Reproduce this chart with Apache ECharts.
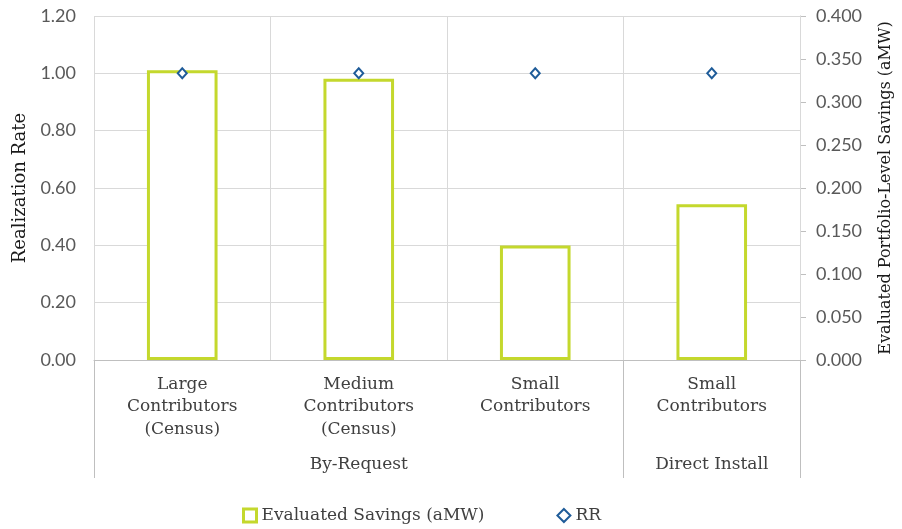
<!DOCTYPE html>
<html>
<head>
<meta charset="utf-8">
<script src="https://cdn.jsdelivr.net/npm/echarts@6/dist/echarts.min.js"></script>
<style>
  html, body { margin: 0; padding: 0; background: #fff; }
  #chart { width: 902px; height: 529px; }
</style>
</head>
<body>
<div id="chart"></div>
<script>
// categories (inner level) and program groups (outer level)
var categories = ['Large\nContributors\n(Census)', 'Medium\nContributors\n(Census)', 'Small\nContributors', 'Small\nContributors']
var groupLabels = ['', 'By-Request', '', 'Direct Install']
var groupStarts = [0, 3]   // index where each group begins

// values
var savings = [0.337, 0.327, 0.133, 0.181]   // aMW, right axis
var rr = [1.00, 1.00, 1.00, 1.00]            // realization rate, left axis

var serif = '"DejaVu Serif", serif'
var sans = 'Lato, "Open Sans", sans-serif'
var gridColor = '#d9d9d9'
var axisColor = '#bfbfbf'
var green = '#c4d82d'

var chart = echarts.init(document.getElementById('chart'))
var option = {
  animation: false,
  grid: { left: 94, right: 97, top: 16, bottom: 169, containLabel: false },
  legend: {
    left: 237,
    top: 502,
    itemGap: 72,
    itemWidth: 13,
    itemHeight: 13,
    textStyle: { fontFamily: serif, fontSize: 17, color: '#404040' },
    data: [
      { name: 'Evaluated Savings (aMW)', icon: 'rect', itemStyle: { color: '#ffffff', borderColor: green, borderWidth: 3 } },
      { name: 'RR', icon: 'diamond' }
    ]
  },
  xAxis: [
    {
      type: 'category',
      data: categories,
      position: 'bottom',
      z: 5,
      axisLine: { show: true, lineStyle: { color: axisColor, width: 1 } },
      axisTick: { show: false },
      splitLine: { show: true, lineStyle: { color: gridColor, width: 1 } },
      axisLabel: {
        interval: 0,
        margin: 13,
        fontFamily: serif,
        fontSize: 17,
        lineHeight: 22.5,
        color: '#404040'
      }
    },
    {
      type: 'category',
      data: groupLabels,
      position: 'bottom',
      axisLine: { show: false },
      axisTick: {
        show: true,
        length: 118,
        interval: function (i) { return groupStarts.indexOf(i) >= 0 },
        lineStyle: { color: axisColor, width: 1 }
      },
      splitLine: { show: false },
      axisLabel: {
        interval: 0,
        margin: 96,
        fontFamily: serif,
        fontSize: 17,
        color: '#404040'
      }
    }
  ],
  yAxis: [
    {
      type: 'value',
      min: 0,
      max: 1.2,
      interval: 0.2,
      name: 'Realization Rate',
      nameLocation: 'middle',
      nameGap: 65,
      nameTextStyle: { fontFamily: serif, fontSize: 18, color: '#1a1a1a' },
      axisLine: { show: false },
      axisTick: { show: false },
      splitLine: { show: true, lineStyle: { color: gridColor, width: 1 } },
      axisLabel: {
        margin: 18,
        fontFamily: sans,
        fontSize: 18,
        color: '#595959',
        formatter: function (v) { return v.toFixed(2) }
      }
    },
    {
      type: 'value',
      min: 0,
      max: 0.4,
      interval: 0.05,
      position: 'right',
      name: 'Evaluated Portfolio-Level Savings (aMW)',
      nameLocation: 'middle',
      nameGap: 78,
      nameRotate: 90,
      nameTextStyle: { fontFamily: serif, fontSize: 16, color: '#1a1a1a' },
      axisLine: { show: true, lineStyle: { color: axisColor, width: 1 } },
      axisTick: { show: true, length: 6, lineStyle: { color: axisColor } },
      splitLine: { show: false },
      axisLabel: {
        margin: 16,
        fontFamily: sans,
        fontSize: 18,
        color: '#595959',
        formatter: function (v) { return v.toFixed(3) }
      }
    }
  ],
  series: [
    {
      name: 'Evaluated Savings (aMW)',
      type: 'bar',
      yAxisIndex: 1,
      data: savings,
      barWidth: '40%',
      itemStyle: { color: '#ffffff', borderColor: green, borderWidth: 3 },
      z: 2
    },
    {
      name: 'RR',
      type: 'scatter',
      yAxisIndex: 0,
      data: rr,
      symbol: 'diamond',
      symbolSize: [9, 10],
      itemStyle: { color: '#ffffff', borderColor: '#1f5c99', borderWidth: 2, opacity: 1 },
      z: 3
    }
  ]
}
chart.setOption(option)
</script>
</body>
</html>
